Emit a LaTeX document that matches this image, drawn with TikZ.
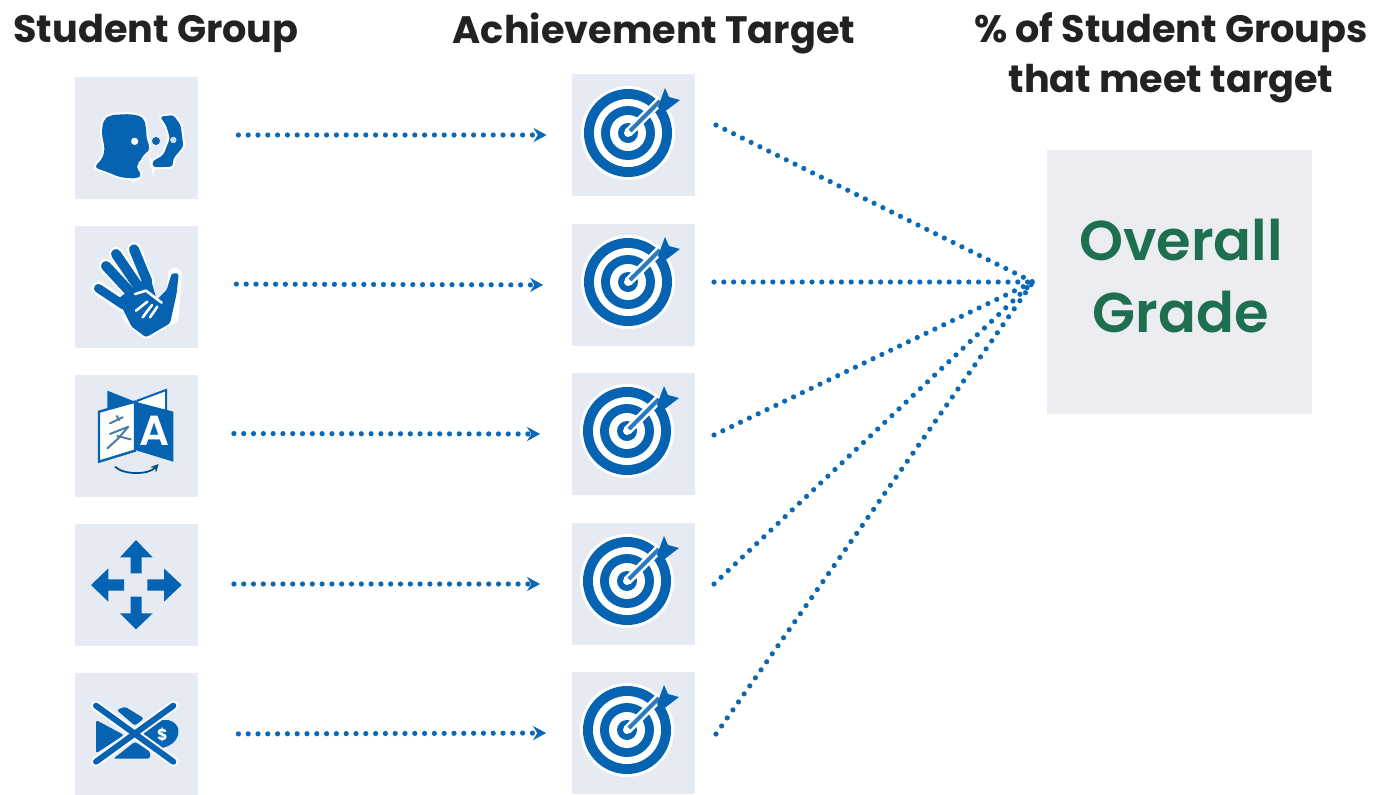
\documentclass[tikz,border=0pt]{standalone}
\usepackage{fontspec}
\setmainfont{Poppins}
\newfontfamily\gradefont{Poppins SemiBold}
\usetikzlibrary{arrows.meta}
\definecolor{iconblue}{HTML}{0563B1}
\definecolor{linkblue}{HTML}{0A68B4}
\definecolor{tilegrey}{HTML}{E6EAF2}
\definecolor{gradegrey}{HTML}{ECEDF1}
\definecolor{gradegreen}{HTML}{1E6F50}
\definecolor{headink}{HTML}{222222}
\tikzset{
  tile/.style={fill=tilegrey,draw=none,inner sep=0pt,minimum width=61.5pt,minimum height=61pt},
  gradetile/.style={fill=gradegrey,draw=none,inner sep=0pt,minimum width=132.5pt,minimum height=132pt},
  gradetext/.style={inner sep=0pt,font=\gradefont\fontsize{28}{36}\selectfont,text=gradegreen,align=center},
  head/.style={font=\fontsize{19.1}{25}\selectfont\bfseries,text=headink,align=center,inner sep=0pt},
  dotted link/.style={draw=linkblue,line width=2.6pt,line cap=round,dash pattern=on 0pt off 4.9pt},
  feed/.style={dotted link,-{Stealth[length=6.5pt,width=7pt]},shorten <=19pt,shorten >=12.5pt},
  fan/.style={dotted link},
  ink/.style={fill=iconblue,draw=none,rounded corners=1.2pt},
  softink/.style={fill=iconblue,rounded corners=2.5pt,preaction={draw=white,line width=2pt}},
  zoomA/.style={shift={(60,60)},x=0.16667pt,y=-0.16667pt},
  zoomB/.style={shift={(60,360)},x=0.16667pt,y=-0.16667pt},
}
\newcommand{\targeticon}[2]{%
  \begin{scope}[shift={(#1,#2)}]
    \fill[white] (0,0) circle[radius=23.5pt];
    \fill[iconblue] (0,0) circle[radius=22pt];
    \fill[white] (0,0) circle[radius=17pt];
    \fill[iconblue] (0,0) circle[radius=13.5pt];
    \fill[white] (0,0) circle[radius=9pt];
    \fill[iconblue] (0,0) circle[radius=5pt];
    \draw[white,line width=4.5pt] (0,0) -- (32,-32);
    \fill[white] (0,0) circle[radius=2pt];
    \draw[iconblue!85!white,line width=2pt] (2,-2) -- (32,-32);
    \fill[iconblue] (30,-26) -- (37,-45) -- (41,-36) -- (52,-33) -- (35,-20) -- cycle;
  \end{scope}}
\begin{document}
\begin{tikzpicture}[x=0.5pt,y=-0.5pt]
\useasboundingbox[fill=white] (0,0) rectangle (1376,794);

% headings
\node[head] (h1) at (156,33) {Student Group};
\node[head] (h2) at (654,33) {Achievement Target};
\node[head] (h3) at (1171,58) {\% of Student Groups\\that meet target};

% tiles
\node[tile] (s1) at (136.5,137.5) {};
\node[tile] (s2) at (136.5,286.5) {};
\node[tile] (s3) at (136,436) {};
\node[tile] (s4) at (136,585) {};
\node[tile] (s5) at (136.5,734) {};
\node[tile] (t1) at (633.5,135) {};
\node[tile] (t2) at (633,285) {};
\node[tile] (t3) at (633,434) {};
\node[tile] (t4) at (633,584) {};
\node[tile] (t5) at (633,733) {};
\node[gradetile] (grade) at (1179.5,282) {};
\node[gradetext] (gradelabel) at (1181,276) {Overall\\Grade};

% talking heads
\begin{scope}[zoomA]
  \path[softink] (100,322) -- (125,300) -- (135,270) -- (125,220) -- (130,180) -- (150,165) -- (210,162) -- (250,170) -- (258,200) -- (260,240) -- (272,265) -- (262,275) -- (245,290) -- (240,305) -- (225,320) -- (248,345) -- (230,356) -- (180,352) -- (140,335) -- cycle;
  \fill[white] (224,244) circle[radius=1.8pt];
  \fill[iconblue] (288,243) circle[radius=2pt];
  \path[softink,rounded corners=1.5pt] (300,170) -- (340,165) -- (362,195) -- (370,260) -- (340,295) -- (338,320) -- (280,322) -- (276,305) -- (310,285) -- (330,235) -- (318,195) -- cycle;
  \fill[white!80!iconblue] (340,240) circle[radius=1.6pt];

  % hand
  \draw[white,line width=7pt,line cap=round] (115,685) -- (190,735) (138,618) -- (205,690) (168,582) -- (235,680) (222,568) -- (262,665);
  \draw[white,line width=7pt,line cap=round,line join=round] (345,645) -- (335,770) -- (258,815) -- (210,770);
  \draw[iconblue,line width=4.4pt,line cap=round] (115,685) -- (190,735);
  \draw[iconblue,line width=5pt,line cap=round] (138,618) -- (205,690);
  \draw[iconblue,line width=5pt,line cap=round] (168,582) -- (235,680);
  \draw[iconblue,line width=5pt,line cap=round] (222,568) -- (262,665);
  \fill[ink] (170,720) -- (240,665) -- (272,655) -- (290,720) -- (320,690) -- (335,640) -- (356,640) -- (350,700) -- (330,790) -- (258,832) -- (215,800) -- (190,750) -- cycle;
  \draw[white,line width=1.3pt,line cap=round,line join=round] (225,702) -- (258,692) -- (305,728);
  \draw[white,line width=1.3pt,line cap=round] (228,752) -- (262,725);
  \draw[white,line width=1.3pt,line cap=round] (248,772) -- (276,735);
  \draw[white,line width=1.3pt,line cap=round] (270,772) -- (292,740);
\end{scope}

% book
\begin{scope}[zoomB]
  \fill[iconblue] (142,92) -- (225,125) -- (142,150) -- cycle;
  \draw[iconblue,line width=1pt,fill=white] (232,122) -- (318,90) -- (318,150) -- (232,150) -- cycle;
  \draw[iconblue,line width=1.2pt,fill=white] (117,155) -- (225,125) -- (225,272) -- (117,305) -- cycle;
  \fill[iconblue] (225,125) -- (340,155) -- (340,305) -- (225,270) -- cycle;
  \node[text=white,font=\gradefont\fontsize{21}{21}\selectfont,inner sep=0pt] (bookA) at (284,213) {A};
  \draw[iconblue!70!black!70!white,line width=1pt,line cap=round,line join=round]
    (150,190) -- (188,172) (170,168) -- (178,180) (150,222) -- (205,200) -- (175,235) -- (142,265) (172,228) -- (212,238);
  \draw[iconblue!80!black,line width=.9pt,-{Stealth[length=4pt,width=4pt]}] (165,320) .. controls (190,345) and (265,345) .. (296,312);
\end{scope}

% four arrows
\begin{scope}[zoomB]
  \fill[iconblue] (228,540) -- (278,592) -- (245,592) -- (245,640) -- (212,640) -- (212,592) -- (180,592) -- cycle;
  \fill[iconblue] (228,808) -- (278,760) -- (245,760) -- (245,710) -- (212,710) -- (212,760) -- (180,760) -- cycle;
  \fill[iconblue] (93,675) -- (145,625) -- (145,658) -- (192,658) -- (192,692) -- (145,692) -- (145,725) -- cycle;
  \fill[iconblue] (365,675) -- (312,625) -- (312,658) -- (262,658) -- (262,692) -- (312,692) -- (312,725) -- cycle;
\end{scope}

% crossed-out money
\begin{scope}[zoomB]
  \fill[ink] (108,1080) -- (192,1125) -- (108,1180) -- cycle;
  \fill[ink] (170,1050) -- (195,1040) -- (252,1075) -- (225,1097) -- cycle;
  \fill[ink] (160,1196) -- (225,1145) -- (270,1175) -- (270,1196) -- cycle;
  \fill[iconblue] (240,1122) -- (300,1080) -- (325,1080) .. controls (345,1085) and (358,1100) .. (355,1118) .. controls (352,1145) and (330,1160) .. (300,1165) -- cycle;
  \node[text=white,font=\fontsize{8}{8}\selectfont\bfseries,inner sep=0pt] (coin) at (307,1125) {\$};
  \draw[white,line width=5pt,line cap=round] (108,1037) -- (340,1205) (340,1037) -- (108,1205);
  \draw[iconblue,line width=3pt,line cap=round] (108,1037) -- (340,1205) (340,1037) -- (108,1205);
\end{scope}

% targets
\targeticon{628}{133}
\targeticon{628}{282}
\targeticon{627}{431}
\targeticon{627}{581}
\targeticon{627}{730}

% arrows
\path (s1.east) ++(2,-2.5) coordinate (a1) (t1.west) coordinate (b1);
\path (s2.east) ++(0,-2.5) coordinate (a2) (t2.west) ++(-3,0) coordinate (b2);
\path (s3.east) ++(-2,-2.5) coordinate (a3) (t3.west) ++(-6,0) coordinate (b3);
\path (s4.east) ++(-2,-1) coordinate (a4) (t4.west) ++(-6,0) coordinate (b4);
\path (s5.east) ++(2,0) coordinate (a5) (t5.west) coordinate (b5);
\draw[feed] (a1) -- (b1);
\draw[feed] (a2) -- (b2);
\draw[feed] (a3) -- (b3);
\draw[feed] (a4) -- (b4);
\draw[feed] (a5) -- (b5);

% fan-in
\coordinate (hub) at (1033,282);
\coordinate (o1) at (716,125);
\coordinate (o2) at (714,282);
\coordinate (o3) at (714,435);
\coordinate (o4) at (714,584);
\coordinate (o5) at (716,734);
\draw[fan] (o1) -- (hub);
\draw[fan] (o2) -- (hub);
\draw[fan] (o3) -- (hub);
\draw[fan] (o4) -- (hub);
\draw[fan] (o5) -- (hub);
\end{tikzpicture}
\end{document}
